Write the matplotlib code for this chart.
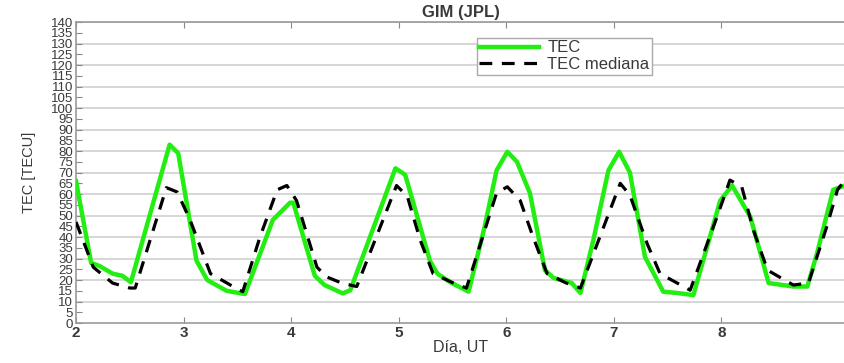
import matplotlib
matplotlib.use("Agg")
import matplotlib.pyplot as plt
import numpy as np

# ----------------------------------
# DATA
# ----------------------------------

tec_day = [2.00, 2.14, 2.22, 2.34, 2.43, 2.51, 2.87, 2.95, 3.12, 3.22,
           3.40, 3.57, 3.83, 3.99, 4.02, 4.22, 4.31, 4.48, 4.55, 4.97,
           5.06, 5.13, 5.29, 5.36, 5.48, 5.65, 5.80, 5.91, 6.01, 6.10,
           6.22, 6.36, 6.44, 6.61, 6.69, 6.81, 6.95, 7.05, 7.15, 7.29,
           7.46, 7.59, 7.74, 7.99, 8.10, 8.27, 8.44, 8.67, 8.80, 8.89,
           9.04, 9.15]
tec_val = [66, 28, 26.5, 23, 22, 19, 83, 79, 29, 20,
           15, 13.5, 48, 56, 56, 22, 17.7, 13.8, 15.3, 72,
           69, 57, 29, 23, 19, 14.6, 45, 71, 79.7, 75,
           60.5, 24.6, 21, 18.6, 14, 38.6, 71, 79.7, 70, 30.8,
           14.6, 14, 13, 57, 64, 49.4, 18.6, 17, 17, 32.5,
           62, 64]

med_day = [2.00, 2.16, 2.34, 2.50, 2.55, 2.84, 2.94, 3.06, 3.25, 3.46,
           3.55, 3.71, 3.87, 3.96, 4.05, 4.24, 4.33, 4.47, 4.61, 4.98,
           5.08, 5.20, 5.32, 5.51, 5.63, 5.91, 6.01, 6.13, 6.25, 6.38,
           6.56, 6.69, 6.87, 7.06, 7.15, 7.31, 7.43, 7.71, 7.96, 8.08,
           8.19, 8.30, 8.43, 8.67, 8.81, 8.98, 9.08, 9.15]
med_val = [47, 26, 18.6, 16.3, 16.3, 63, 61, 48, 23, 17,
           14.6, 40, 62, 64, 57, 26, 21.5, 18.6, 17, 64,
           59, 38.6, 23, 18.6, 16.3, 60.5, 63.4, 57, 40, 23,
           18.6, 16.3, 40, 65, 59.5, 37, 23, 15.3, 49.4, 66.5,
           63.4, 43, 24.6, 17.7, 18.6, 44.8, 62, 66.5]

x_ticks = [2, 3, 4, 5, 6, 7, 8]
y_ticks = list(range(0, 145, 5))

# ----------------------------------
# PLOT
# ----------------------------------

plt.rcParams["font.family"] = ["Liberation Sans", "DejaVu Sans"]
TXT = "#3a3a3a"

fig = plt.figure(figsize=(8.45, 3.63), dpi=100)
ax = fig.add_axes([0.09, 0.11, 0.91, 0.829])

ax.plot(tec_day, tec_val, color="#22ee11", lw=3.2, label="TEC", zorder=3)
ax.plot(med_day, med_val, color="black", lw=2.3, dashes=(4, 3),
        label="TEC mediana", zorder=4)

ax.set_xlim(2, 9.15)
ax.set_ylim(0, 140)
ax.set_xticks(x_ticks)
ax.set_yticks(y_ticks)
ax.set_yticklabels([str(v) for v in y_ticks], fontsize=9.5, color=TXT)
ax.set_xticklabels([str(v) for v in x_ticks], fontsize=11, color=TXT,
                   fontweight="bold")

for y in range(10, 141, 10):
    ax.axhline(y, color="#d0d0d0", lw=1.2, zorder=1)

ax.tick_params(axis="both", direction="in", length=4, color="#888888",
               top=True, right=False, pad=2)
for side in ["left", "bottom", "top"]:
    ax.spines[side].set_color("#999999")
    ax.spines[side].set_linewidth(1.2)
ax.spines["right"].set_visible(False)

ax.set_title("GIM (JPL)", fontsize=12, fontweight="bold", color=TXT, pad=4)
ax.set_xlabel("Día, UT", fontsize=11.5, color=TXT, labelpad=0)
ax.set_ylabel("TEC [TECU]", fontsize=10.5, color=TXT, labelpad=11)

leg = ax.legend(loc="upper left", bbox_to_anchor=(0.51, 0.975),
                fontsize=12, handlelength=3.6, borderpad=0.15,
                labelspacing=0.1, handletextpad=0.5, fancybox=False,
                framealpha=1, edgecolor="#aaaaaa")
for t in leg.get_texts():
    t.set_color(TXT)

fig.savefig("out.png", dpi=100)
